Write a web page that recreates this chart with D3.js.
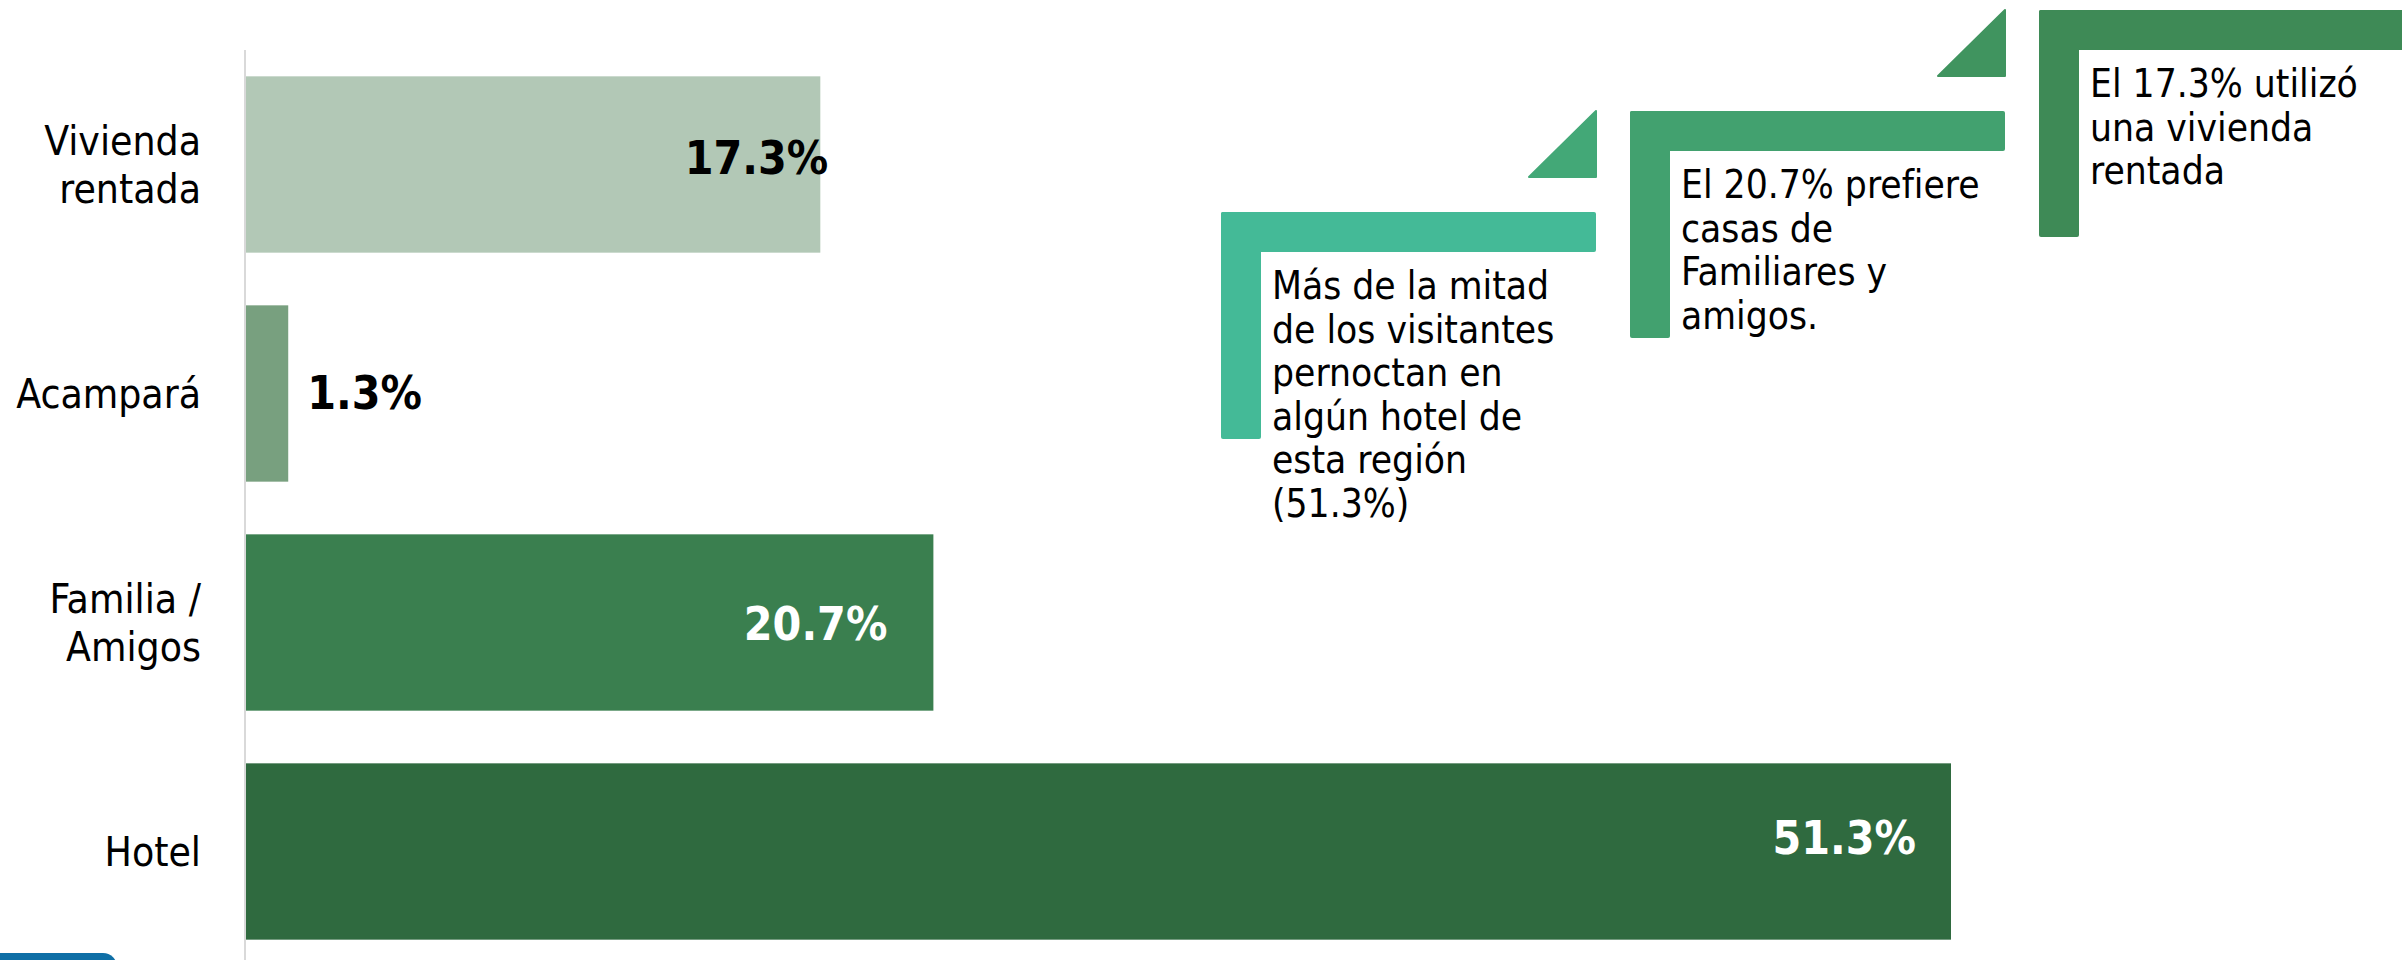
<!DOCTYPE html>
<html lang="es">
<head>
<meta charset="utf-8">
<script src="https://cdn.jsdelivr.net/npm/d3@7/dist/d3.min.js"></script>
<style>
  html, body { margin: 0; padding: 0; background: #fff; }
  svg { display: block; font-family: "DejaVu Sans Condensed", "DejaVu Sans", sans-serif; font-stretch: condensed; }
</style>
</head>
<body>
<svg id="chart" width="2402" height="960"></svg>
<script>
(function () {
  'use strict';

  // ── Data ──────────────────────────────────────────────────────────────────
  const categories = [['Vivienda', 'rentada'], ['Acampará'], ['Familia /', 'Amigos'], ['Hotel']];
  const values = [17.3, 1.3, 20.7, 51.3];
  const valueLabels = ['17.3%', '1.3%', '20.7%', '51.3%'];

  const calloutTexts = [
    ['Más de la mitad', 'de los visitantes', 'pernoctan en', 'algún hotel de', 'esta región', '(51.3%)'],
    ['El 20.7% prefiere', 'casas de', 'Familiares y', 'amigos.'],
    ['El 17.3% utilizó', 'una vivienda', 'rentada']
  ];

  // ── Styles ────────────────────────────────────────────────────────────────
  const barColors = ['#b2c8b6', '#78a07f', '#3a7f4f', '#2f6a3f'];
  const labelColors = ['#000', '#000', '#fff', '#fff'];
  // label placement: anchor, dx from bar end, dy from band centre (baseline)
  const labelPlace = [
    { anchor: 'end', dx: 8, dy: 9 },
    { anchor: 'start', dx: 19, dy: 15 },
    { anchor: 'end', dx: -46, dy: 17 },
    { anchor: 'end', dx: -35, dy: 2 }
  ];
  const calloutColors = ['#44ba97', '#42a16f', '#3e8a56'];
  const triangleColors = ['#43a877', '#40945f'];

  const svg = d3.select('#chart');

  const x = d3.scaleLinear().domain([0, 60]).range([245, 245 + 60 * (1706 / 51.3)]);
  const y = d3.scaleBand()
    .domain(d3.range(categories.length))
    .range([50, 966])
    .paddingInner(0.23)
    .paddingOuter(0.115);

  // Axis line
  svg.append('line')
    .attr('x1', x(0)).attr('x2', x(0))
    .attr('y1', 50).attr('y2', 960)
    .attr('stroke', '#d9d9d9')
    .attr('stroke-width', 2);

  // Bars
  svg.selectAll('.bar')
    .data(values)
    .enter()
    .append('rect')
    .attr('class', 'bar')
    .attr('x', x(0) + 1)
    .attr('y', (d, i) => y(i))
    .attr('width', d => x(d) - x(0) - 1)
    .attr('height', y.bandwidth())
    .attr('fill', (d, i) => barColors[i]);

  // Category labels
  const lineH = 48;
  categories.forEach((lines, i) => {
    const cy = y(i) + y.bandwidth() / 2;
    const t = svg.append('text')
      .attr('x', 201)
      .attr('text-anchor', 'end')
      .attr('font-size', 40.5)
      .attr('fill', '#000');
    lines.forEach((ln, k) => {
      t.append('tspan')
        .attr('x', 201)
        .attr('y', cy + 14 + (k - (lines.length - 1) / 2) * lineH)
        .text(ln);
    });
  });

  // Value labels
  svg.selectAll('.val')
    .data(values)
    .enter()
    .append('text')
    .attr('class', 'val')
    .attr('x', (d, i) => x(d) + labelPlace[i].dx)
    .attr('y', (d, i) => y(i) + y.bandwidth() / 2 + labelPlace[i].dy)
    .attr('text-anchor', (d, i) => labelPlace[i].anchor)
    .attr('font-size', 46)
    .attr('font-weight', 'bold')
    .attr('fill', (d, i) => labelColors[i])
    .text((d, i) => valueLabels[i]);

  // ── Callouts (stair-step brackets) ────────────────────────────────────────
  const c0 = { x: 1221, y: 212 };
  const step = { x: 409, y: -101 };
  const armLen = 375, thick = 40, legLen = 227, tri = 67;

  calloutTexts.forEach((lines, i) => {
    const bx = c0.x + i * step.x;
    const by = c0.y + i * step.y;
    const g = svg.append('g').attr('fill', calloutColors[i]);
    const w = i === 2 ? 2402 - bx + 10 : armLen;
    g.append('rect').attr('x', bx).attr('y', by).attr('width', w).attr('height', thick).attr('rx', 2);
    g.append('rect').attr('x', bx).attr('y', by).attr('width', thick).attr('height', legLen).attr('rx', 2);

    if (i < 2) {
      const rx = bx + armLen;
      const ty = by + step.y;
      svg.append('path')
        .attr('d', `M${rx},${ty} L${rx},${ty + tri - 1} L${rx - tri},${ty + tri - 1} Z`)
        .attr('fill', triangleColors[i])
        .attr('stroke', triangleColors[i])
        .attr('stroke-width', 2)
        .attr('stroke-linejoin', 'round');
    }

    const t = svg.append('text')
      .attr('font-size', 38.6)
      .attr('fill', '#000');
    lines.forEach((ln, k) => {
      t.append('tspan')
        .attr('x', bx + 51)
        .attr('y', by + 87 + k * 43.5)
        .text(ln);
    });
  });

  // Bottom-left tab
  svg.append('rect')
    .attr('x', -20).attr('y', 953)
    .attr('width', 137).attr('height', 30)
    .attr('rx', 14)
    .attr('fill', '#0f6fa6');
})();
</script>
</body>
</html>
